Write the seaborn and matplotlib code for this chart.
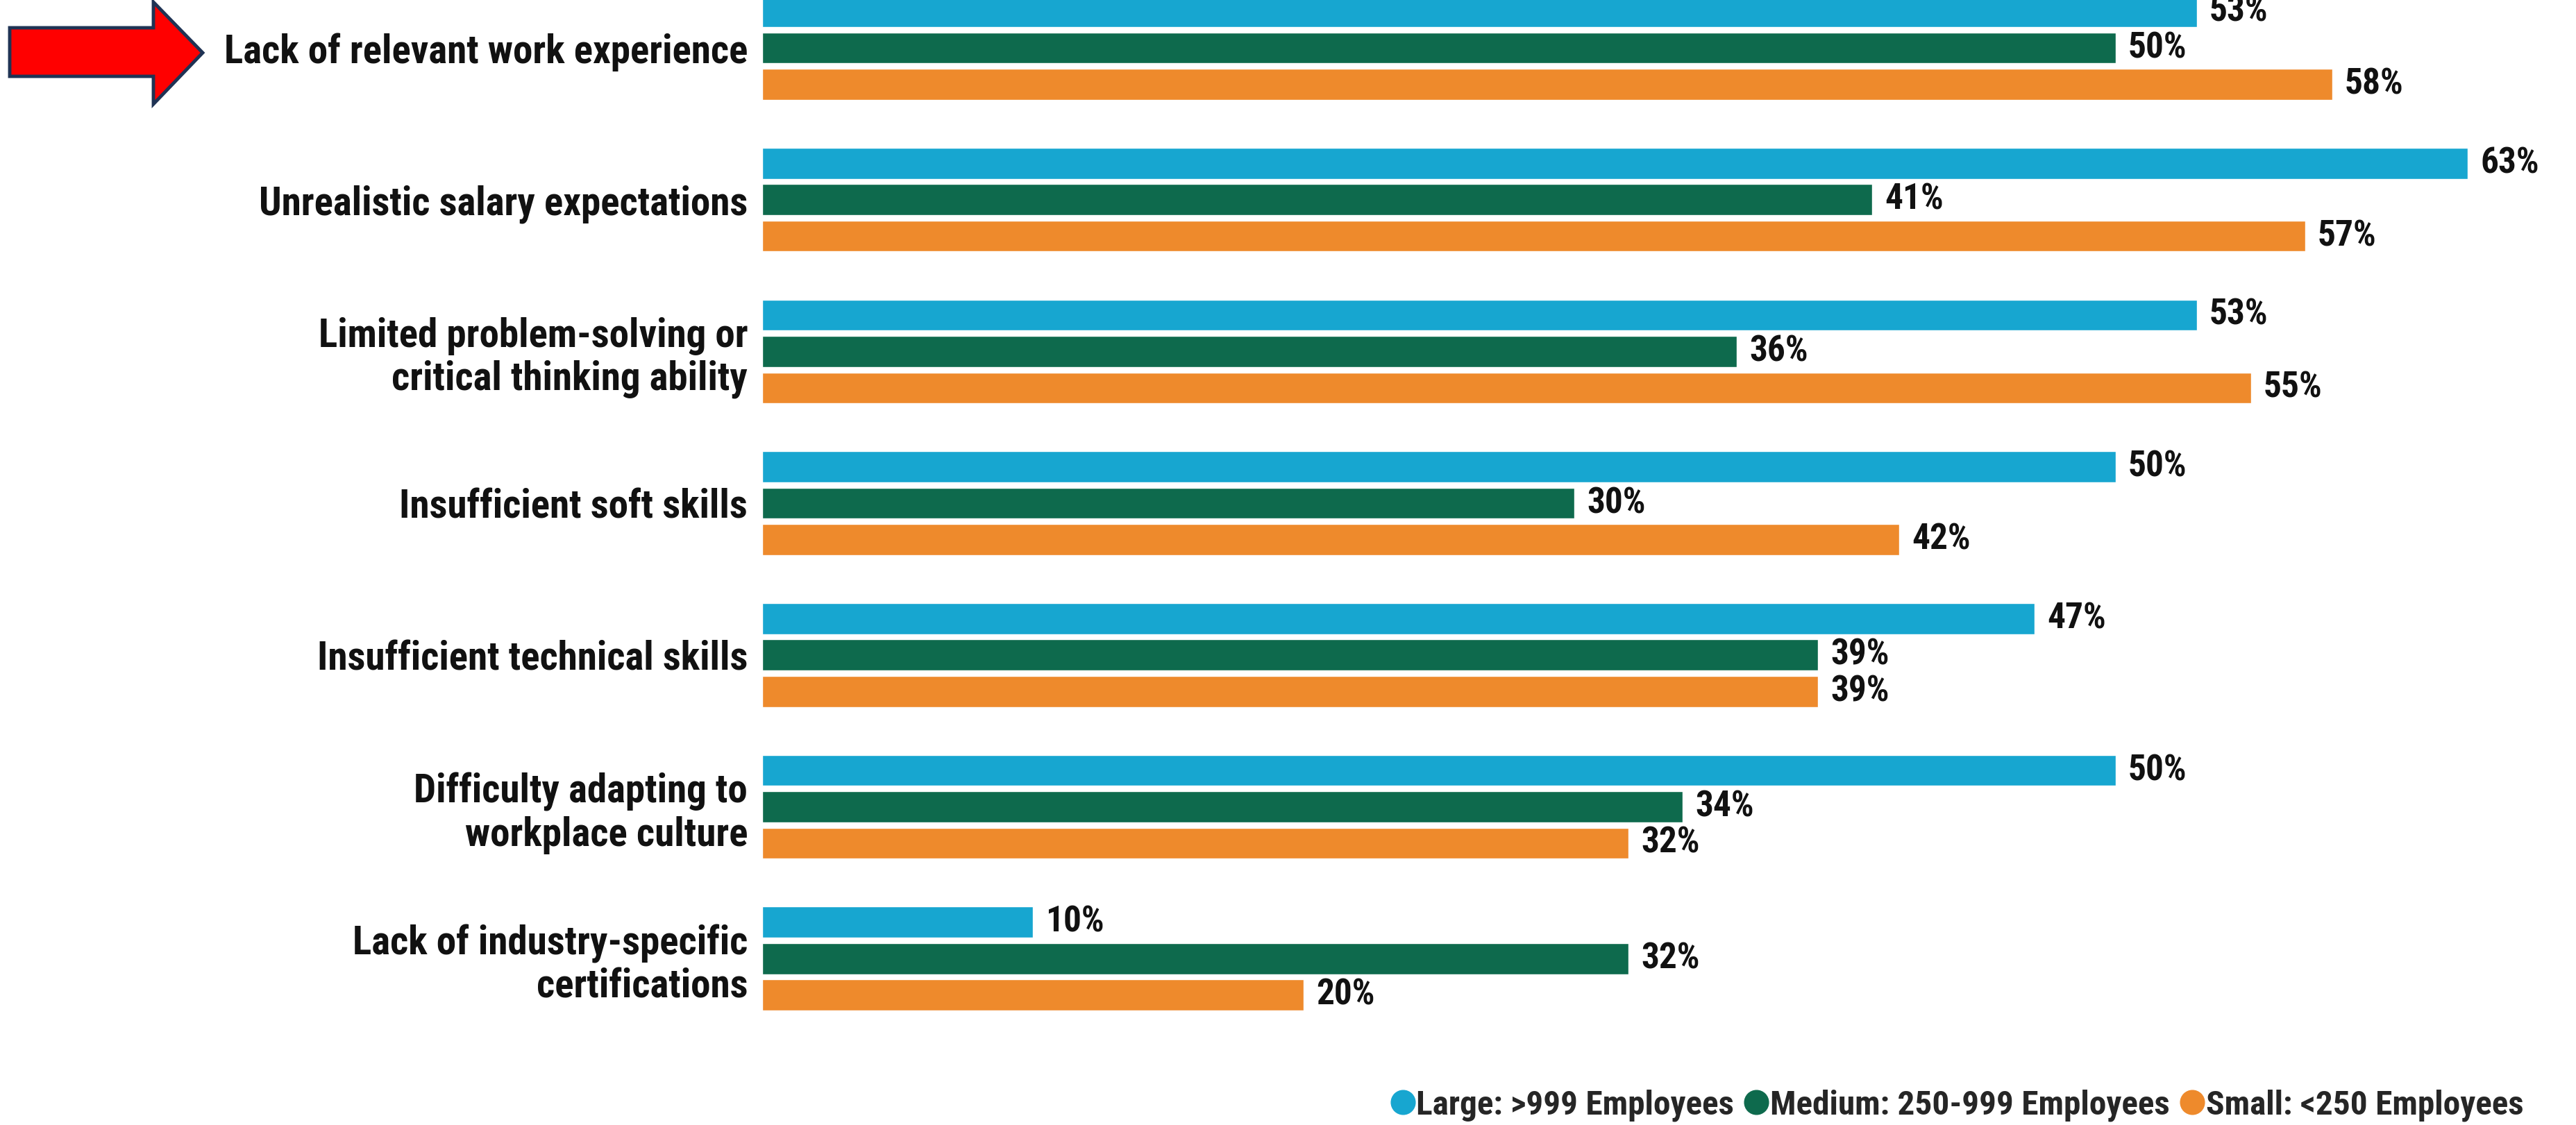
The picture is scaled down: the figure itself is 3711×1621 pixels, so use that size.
import os
import matplotlib
matplotlib.use("Agg")
import matplotlib.pyplot as plt
import pandas as pd
import seaborn as sns
from matplotlib import font_manager
from matplotlib.font_manager import FontProperties
from matplotlib.lines import Line2D
from matplotlib.patches import Polygon

# Survey data: share of employers citing each gap, by company size
categories = [
    "Lack of relevant work experience",
    "Unrealistic salary expectations",
    "Limited problem-solving or\ncritical thinking ability",
    "Insufficient soft skills",
    "Insufficient technical skills",
    "Difficulty adapting to\nworkplace culture",
    "Lack of industry-specific\ncertifications",
]
large = [53, 63, 53, 50, 47, 50, 10]
medium = [50, 41, 36, 30, 39, 34, 32]
small = [58, 57, 55, 42, 39, 32, 20]
groups = ["Large: >999 Employees", "Medium: 250-999 Employees", "Small: <250 Employees"]
colors = ["#17A6D0", "#0E6A4D", "#EE8A2C"]

df = pd.DataFrame({
    "category": categories * 3,
    "value": large + medium + small,
    "group": [groups[0]] * 7 + [groups[1]] * 7 + [groups[2]] * 7,
})

sns.set_theme(style="white")


def condensed_bold_file():
    """Find a narrow bold face among the installed fonts."""
    prefs = ["NotoSans-CondensedBold", "RobotoCondensed-Bold", "LiberationSansNarrow-Bold",
             "OpenSans-CondBold", "OpenSans_Condensed-Bold", "DejaVuSansCondensed-Bold"]
    files = set(f.fname for f in font_manager.fontManager.ttflist)
    try:
        files |= set(font_manager.findSystemFonts())
    except Exception:
        pass
    for p in prefs:
        for fn in sorted(files):
            base = os.path.basename(fn)
            if base.startswith(p + "."):
                return fn
    return None


font_file = condensed_bold_file()
plt.rcParams["font.family"] = ["DejaVu Sans"]


def fprop(size):
    if font_file:
        return FontProperties(fname=font_file, size=size)
    return FontProperties(family="DejaVu Sans", weight="bold", stretch="condensed", size=size)


LABEL_SIZE = 41
VALUE_SIZE = 37
LEGEND_SIZE = 35.5

W, H = 3711, 1621
fig = plt.figure(figsize=(W / 100, H / 100), dpi=100)
fig.patch.set_facecolor("white")

ax_left_px, ax_bottom_px = 1098, 1500
ax = fig.add_axes([ax_left_px / W, (H - ax_bottom_px) / H, (W - ax_left_px) / W, ax_bottom_px / H])

sns.barplot(
    data=df, y="category", x="value", hue="group", orient="h",
    palette=colors, saturation=1, width=0.72, gap=0.15,
    legend=False, ax=ax,
)

px_per_pct = 39.0
ax.set_xlim(0, (W - ax_left_px) / px_per_pct)
group_px = 218.7
first_center_px = 69
ax.set_ylim(-first_center_px / group_px + ax_bottom_px / group_px, -first_center_px / group_px)

for cont in ax.containers:
    ax.bar_label(cont, fmt="%g%%", padding=13, fontproperties=fprop(VALUE_SIZE), color="#111111")

ax.set_xlabel("")
ax.set_ylabel("")
ax.set_xticks([])
ax.tick_params(axis="y", length=0, pad=15)
for lbl in ax.get_yticklabels():
    lbl.set_fontproperties(fprop(LABEL_SIZE))
    lbl.set_color("#111111")
    lbl.set_linespacing(1.15)
    lbl.set_horizontalalignment("right")
for s in ax.spines.values():
    s.set_visible(False)

# Legend along the bottom right
handles = [Line2D([0], [0], marker="o", linestyle="", markersize=25,
                  markerfacecolor=c, markeredgecolor=c) for c in colors]
fig.legend(handles, groups, loc="center right", bbox_to_anchor=(3655 / W, (H - 1593) / H),
           ncol=3, frameon=False, handletextpad=0.05, columnspacing=0.3,
           handlelength=0.7, borderaxespad=0, prop=fprop(LEGEND_SIZE))

# Red pointer arrow highlighting the top row
pts_px = [(14, 40), (221, 40), (221, 3), (292, 76), (221, 150), (221, 110), (14, 110)]
arrow = Polygon([(x / W, 1 - y / H) for x, y in pts_px], closed=True,
                transform=fig.transFigure, facecolor="#FF0000", edgecolor="#1F3354",
                linewidth=3.5, joinstyle="miter")
fig.patches.append(arrow)

fig.savefig("out.png", dpi=100, facecolor="white")
